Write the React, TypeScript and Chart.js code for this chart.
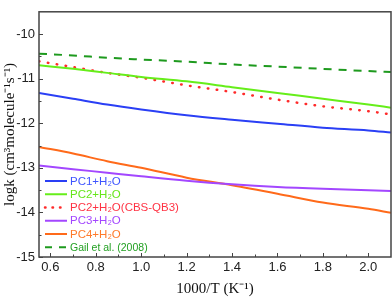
import React, { useEffect, useRef } from "react";
import { Chart, registerables } from "chart.js";

Chart.register(...registerables);

const xValues = [0.55, 0.7, 0.85, 1.0, 1.2, 1.4, 1.6, 1.8, 2.0, 2.1];
const pc1 = [-11.32, -11.45, -11.58, -11.69, -11.82, -11.92, -12.01, -12.1, -12.16, -12.21];
const pc2 = [-10.7, -10.78, -10.87, -10.96, -11.06, -11.19, -11.32, -11.45, -11.58, -11.65];
const pc2cbs = [-10.61, -10.74, -10.87, -10.98, -11.15, -11.3, -11.47, -11.62, -11.73, -11.8];
const pc3 = [-12.95, -13.03, -13.11, -13.19, -13.29, -13.37, -13.43, -13.47, -13.5, -13.52];
const pc4 = [-12.53, -12.68, -12.85, -13.0, -13.22, -13.39, -13.58, -13.78, -13.92, -14.01];
const gail = [-10.44, -10.48, -10.53, -10.57, -10.62, -10.68, -10.73, -10.78, -10.83, -10.85];

const xTicks = [0.6, 0.8, 1.0, 1.2, 1.4, 1.6, 1.8, 2.0];
const xMinorTicks = [0.7, 0.9, 1.1, 1.3, 1.5, 1.7, 1.9];
const yTicks = [-15, -14, -13, -12, -11, -10];
const yMinorTicks = [-14.5, -13.5, -12.5, -11.5, -10.5];

const seriesLabels = [
  "PC1+H₂O",
  "PC2+H₂O",
  "PC2+H₂O(CBS-QB3)",
  "PC3+H₂O",
  "PC4+H₂O",
  "Gail et al. (2008)",
];
const seriesColors = ["#2a3ff5", "#66ee1a", "#ff2a2a", "#a347ff", "#ff6a1a", "#1e9a1e"];
const textColors = ["#3f55ff", "#66e61a", "#ff3344", "#a347ff", "#ff7a2a", "#22a022"];
const seriesData = [pc1, pc2, pc2cbs, pc3, pc4, gail];
const seriesDash: number[][] = [[], [], [0.5, 8.5], [], [], [8, 7]];

const framePlugin = {
  id: "frameTicks",
  afterDraw(chart: any) {
    const { ctx, chartArea } = chart;
    const { left, right, top, bottom } = chartArea;
    const xs = chart.scales.x;
    const ys = chart.scales.y;
    ctx.save();
    ctx.strokeStyle = "#444";
    ctx.lineWidth = 1.5;
    ctx.strokeRect(left, top, right - left, bottom - top);
    ctx.lineWidth = 1;
    ctx.beginPath();
    xTicks.forEach((v) => {
      const px = Math.round(xs.getPixelForValue(v)) + 0.5;
      ctx.moveTo(px, bottom);
      ctx.lineTo(px, bottom - 4);
    });
    xMinorTicks.forEach((v) => {
      const px = Math.round(xs.getPixelForValue(v)) + 0.5;
      ctx.moveTo(px, bottom);
      ctx.lineTo(px, bottom - 2.5);
    });
    yTicks.forEach((v) => {
      const py = Math.round(ys.getPixelForValue(v)) + 0.5;
      ctx.moveTo(left, py);
      ctx.lineTo(left + 4, py);
    });
    yMinorTicks.forEach((v) => {
      const py = Math.round(ys.getPixelForValue(v)) + 0.5;
      ctx.moveTo(left, py);
      ctx.lineTo(left + 2.5, py);
    });
    ctx.stroke();
    ctx.restore();
  },
};

const legendPlugin = {
  id: "innerLegend",
  afterDatasetsDraw(chart: any) {
    const { ctx, chartArea } = chart;
    const x0 = chartArea.left + 6;
    const lineLen = 22;
    const textX = chartArea.left + 31;
    ctx.save();
    seriesLabels.forEach((lab, i) => {
      const y = chartArea.bottom - 76 + i * 13.25;
      ctx.strokeStyle = seriesColors[i];
      ctx.lineWidth = i === 2 ? 2.5 : 2;
      ctx.lineCap = i === 2 ? "round" : "butt";
      ctx.setLineDash(i === 2 ? [0.5, 7] : i === 5 ? [7, 7] : []);
      ctx.beginPath();
      ctx.moveTo(x0, y);
      ctx.lineTo(x0 + lineLen, y);
      ctx.stroke();
      ctx.setLineDash([]);
      ctx.fillStyle = textColors[i];
      ctx.font = (i === 5 ? "10.5px" : "11.5px") + " 'Liberation Sans', Arial, sans-serif";
      ctx.textAlign = "left";
      ctx.textBaseline = "middle";
      ctx.fillText(lab, textX, y + 0.5);
    });
    ctx.restore();
  },
};

export default function App() {
  const canvasRef = useRef<HTMLCanvasElement | null>(null);

  useEffect(() => {
    if (!canvasRef.current) return;
    const datasets = seriesData.map((d, i) => ({
      label: seriesLabels[i],
      data: d.map((y, j) => ({ x: xValues[j], y })),
      borderColor: seriesColors[i],
      backgroundColor: seriesColors[i],
      borderWidth: i === 2 ? 2.5 : 2,
      borderDash: seriesDash[i],
      borderCapStyle: i === 2 ? "round" : "butt",
      pointRadius: 0,
      fill: false,
      cubicInterpolationMode: "monotone",
    }));
    const chart = new Chart(canvasRef.current, {
      type: "line",
      data: { datasets } as any,
      options: {
        animation: false,
        responsive: true,
        maintainAspectRatio: false,
        layout: { padding: { top: 1, right: 1, left: 0, bottom: 0 } },
        plugins: { legend: { display: false }, tooltip: { enabled: false } },
        scales: {
          x: {
            type: "linear",
            min: 0.55,
            max: 2.1,
            afterBuildTicks: (s: any) => {
              s.ticks = xTicks.map((v) => ({ value: v }));
            },
            afterFit: (s: any) => {
              s.height = 43;
            },
            ticks: {
              padding: 3,
              color: "#222",
              font: { family: "'Liberation Sans', Arial, sans-serif", size: 13 },
              callback: (v: any) => Number(v).toFixed(1),
            },
            grid: { display: false, drawTicks: false },
            border: { display: false },
            title: {
              display: true,
              text: "1000/T (K⁻¹)",
              color: "#111",
              font: { family: "'Liberation Serif', 'Times New Roman', serif", size: 15 },
              padding: { top: 0, bottom: 2 },
            },
          },
          y: {
            type: "linear",
            min: -15,
            max: -9.5,
            afterBuildTicks: (s: any) => {
              s.ticks = yTicks.map((v) => ({ value: v }));
            },
            afterFit: (s: any) => {
              s.width = 39;
            },
            ticks: {
              padding: 4,
              color: "#222",
              font: { family: "'Liberation Sans', Arial, sans-serif", size: 13 },
              callback: (v: any) => String(v),
            },
            grid: { display: false, drawTicks: false },
            border: { display: false },
            title: {
              display: true,
              text: "logk (cm³molecule⁻¹s⁻¹)",
              color: "#111",
              font: { family: "'Liberation Serif', 'Times New Roman', serif", size: 15 },
              padding: { top: 1, bottom: 0 },
            },
          },
        },
      } as any,
      plugins: [framePlugin, legendPlugin],
    });
    return () => chart.destroy();
  }, []);

  return (
    <div style={{ position: "fixed", left: 0, top: 0, width: 392, height: 300, background: "#fff" }}>
      <canvas ref={canvasRef} />
    </div>
  );
}
